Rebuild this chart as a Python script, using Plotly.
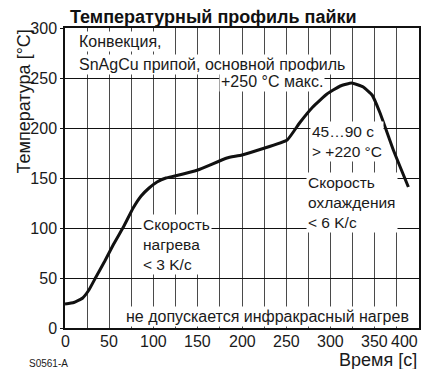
import plotly.graph_objects as go

# Reflow soldering profile: time [s] vs. temperature [°C]
time_s = [0, 10, 20, 27, 35, 45, 55, 66, 77, 86, 95, 104, 114, 124,
          150, 183, 200, 251, 265, 280, 296, 311, 324, 337, 347, 356, 371, 388]
temp_c = [24, 25.5, 30, 38, 51, 67, 84, 101, 120, 132, 140, 146, 150, 152,
          158, 170, 173, 188, 205, 221, 234, 242, 245, 241, 233, 215, 178, 141]

x_grid = list(range(0, 401, 25))
x_ticks = [0, 50, 100, 150, 200, 250, 300, 350, 400]
x_labels = ["0", "50", "100", "150", "200", "250", "300", "350", "400"]
y_ticks = [0, 50, 100, 150, 200, 250, 300]
y_labels = ["0", "50", "100", "150", "200", "250", "300"]

title_text = "Температурный профиль пайки"
y_title = "Температура [°C]"
x_title = "Время [c]"
code_label = "S0561-A"

TEXT_FONT = "Liberation Sans, Arial, sans-serif"
TICK_FONT = "Liberation Sans, Arial, sans-serif"
INK = "#1a1a1a"

fig = go.Figure()
fig.add_trace(go.Scatter(
    x=time_s, y=temp_c, mode="lines",
    line=dict(color="#111111", width=3, shape="spline", smoothing=0.35),
    hoverinfo="skip", showlegend=False,
))

fig.update_layout(
    template="none",
    width=431, height=369,
    margin=dict(l=65, r=12, t=28, b=41, pad=0),
    paper_bgcolor="white", plot_bgcolor="white",
    font=dict(family=TEXT_FONT, color=INK),
    xaxis=dict(
        range=[0, 400], tickmode="array", tickvals=x_grid,
        ticktext=[""] * len(x_grid), automargin=False,
        showgrid=True, gridcolor="#4a4a4a", gridwidth=1.3,
        showline=True, linecolor="#111111", linewidth=1.5, mirror=True,
        ticks="", zeroline=False, fixedrange=True,
    ),
    yaxis=dict(
        range=[0, 300], tickmode="array", tickvals=y_ticks, ticktext=y_labels,
        automargin=False,
        showgrid=True, gridcolor="#111111", gridwidth=1.3,
        showline=True, linecolor="#111111", linewidth=1.5, mirror=True,
        ticks="outside", ticklen=3, tickcolor="#111111",
        zeroline=False,
        tickfont=dict(family=TICK_FONT, size=16, color=INK),
        fixedrange=True,
    ),
)

# time-axis labels; the last one is kept inside the frame
for v, lab in zip(x_ticks, x_labels):
    last = v == x_ticks[-1]
    fig.add_annotation(
        text=lab, x=v, y=0, xref="x", yref="y",
        xanchor="right" if last else "center", yanchor="top",
        xshift=1 if last else 0, yshift=-3, showarrow=False,
        font=dict(family=TICK_FONT, size=16, color=INK),
    )


def note(text, x, y, xanchor="left", yanchor="middle", size=16):
    fig.add_annotation(
        text=text, x=x, y=y, xref="x", yref="y",
        xanchor=xanchor, yanchor=yanchor, align="left", showarrow=False,
        bgcolor="white", borderpad=1,
        font=dict(family=TEXT_FONT, size=size, color=INK),
    )


note("Конвекция,", 13.0, 287)
note("SnAgCu припой, основной профиль", 13.0, 264)
note("+250 °C макс.", 174, 247)
note("Скорость<br>нагрева<br>&lt; 3 K/c", 86, 84, size=15.5)
note("45…90 c<br>&gt; +220 °C", 277, 187, size=15.5)
note("Скорость<br>охлаждения<br>&lt; 6 K/c", 272.5, 126, size=15.5)
note("не допускается инфракрасный нагрев", 229, 12, xanchor="center")

# title, axis titles and drawing code
fig.add_annotation(
    text="<b>" + title_text + "</b>", xref="paper", yref="paper",
    x=0.008, y=1.037, xanchor="left", yanchor="middle", showarrow=False,
    font=dict(family=TEXT_FONT, size=18, color="#111111"),
)
fig.add_annotation(
    text=y_title, xref="paper", yref="paper", textangle=-90,
    x=-0.115, y=1.003, xanchor="center", yanchor="top", showarrow=False,
    font=dict(family=TEXT_FONT, size=18, color=INK),
)
fig.add_annotation(
    text=x_title, xref="paper", yref="paper",
    x=1.0, y=-0.107, xanchor="right", yanchor="middle", showarrow=False,
    font=dict(family=TEXT_FONT, size=18, color=INK),
)
fig.add_annotation(
    text=code_label, xref="paper", yref="paper",
    x=-0.107, y=-0.117, xanchor="left", yanchor="middle", showarrow=False,
    font=dict(family=TEXT_FONT, size=10, color=INK),
)

fig.write_html("out.html")
